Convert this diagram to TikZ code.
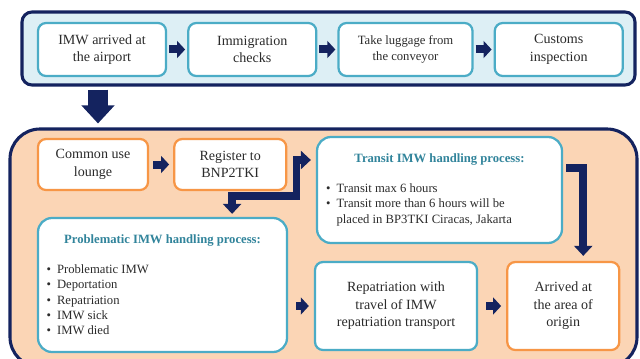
\documentclass[tikz,border=0pt]{standalone}
\usepackage{fontspec}
\setmainfont{Liberation Serif}
\usepackage[dvipsnames]{xcolor}
\usetikzlibrary{arrows.meta,positioning,calc}

\definecolor{navyline}{HTML}{14235F}
\definecolor{topfill}{HTML}{DDEFF5}
\definecolor{tealline}{HTML}{4BACC6}
\definecolor{orangeline}{HTML}{F79646}
\definecolor{peachfill}{HTML}{FBD5B5}
\definecolor{titleteal}{HTML}{31849B}
\definecolor{textgray}{HTML}{2B2B2B}

\newcommand{\imwboxfont}{\fontsize{10}{12.5}\selectfont}
\newcommand{\imwsmallfont}{\fontsize{9}{11}\selectfont}
\newcommand{\imwlistfont}{\fontsize{9}{11}\selectfont}
\newcommand{\bitem}[1]{\par\noindent\hangindent=7.5pt\hangafter=1\makebox[7.5pt][l]{\textbullet}#1}

\begin{document}
\begin{tikzpicture}[
        bluebox/.style = {rectangle, rounded corners=0.2cm, draw=tealline, line width=1.6pt, fill=white, align=center, text=textgray, inner sep=0pt, font=\imwboxfont},
        orangebox/.style = {bluebox, draw=orangeline},
        frame/.style = {rectangle, draw=navyline, line width=2.2pt},
        smallarrow/.style = {navyline, line width=0.2cm, -{Triangle[length=0.2cm, width=0.42cm]}},
        elbow/.style = {navyline, line width=0.19cm, >={Triangle[length=0.25cm, width=0.45cm]}},
        bigarrow/.style = {navyline, line width=0.52cm, -{Triangle[length=0.45cm, width=0.8cm]}}
    ]
        \def\boxh{1.325}

        \useasboundingbox (0,0) rectangle (16,-8.95);

        % airport part
        \node(topframe) [frame, fill=topfill, rounded corners=0.25cm, minimum width=15.325cm, minimum height=1.825cm] at (8.2125,-1.2125) {};

        \node(arrive) [bluebox, minimum width=3.2cm, minimum height=\boxh cm] at (2.55,-1.2375) {IMW arrived at\\the airport};
        \node(immig) [bluebox, minimum width=3.2cm, minimum height=\boxh cm, right=0.5cm of arrive] {Immigration\\checks};
        \node(luggage) [bluebox, minimum width=3.35cm, minimum height=\boxh cm, font=\imwsmallfont, right=0.5cm of immig] {Take luggage from\\the conveyor};
        \node(customs) [bluebox, minimum width=3.2cm, minimum height=\boxh cm, right=0.5cm of luggage] {Customs\\inspection};

        % handling part
        \node(lowframe) [frame, fill=peachfill, rounded corners=0.75cm, minimum width=15.675cm, minimum height=5.95cm] at (8.0875,-6.2) {};

        \node(lounge) [orangebox, minimum width=2.75cm, minimum height=1.275cm] at (2.325,-4.1125) {Common use\\lounge};
        \node(register) [orangebox, minimum width=2.8cm, minimum height=1.275cm, right=0.6cm of lounge] {Register to\\BNP2TKI};

        \node(transit) [bluebox, rounded corners=0.35cm, minimum width=6.125cm, minimum height=2.65cm] at (10.9875,-4.75) {\begin{minipage}{5.675cm}\imwlistfont
            {\centering\bfseries\color{titleteal}Transit IMW handling process:\par}\vspace{10pt}
            \bitem{Transit max 6 hours}
            \bitem{Transit more than 6 hours will be\newline placed in BP3TKI Ciracas, Jakarta}
        \end{minipage}};

        \node(problem) [bluebox, rounded corners=0.35cm, minimum width=6.225cm, minimum height=3.35cm] at (4.0625,-7.125) {\begin{minipage}{5.8cm}\imwlistfont
            {\centering\bfseries\color{titleteal}Problematic IMW handling process:\par}\vspace{10pt}
            \bitem{Problematic IMW}
            \bitem{Deportation}
            \bitem{Repatriation}
            \bitem{IMW sick}
            \bitem{IMW died}
        \end{minipage}};

        \node(repat) [bluebox, minimum width=4.05cm, minimum height=2.2cm] at (9.9,-7.65) {Repatriation with\\travel of IMW\\repatriation transport};
        \node(arrived) [orangebox, minimum width=2.8cm, minimum height=2.2cm, right=0.7cm of repat] {Arrived at\\the area of\\origin};

        \coordinate(split) at ($(register.south east)+(0.225,-0.125)$);

        % arrows
        \draw[smallarrow, shorten <=0.05cm, shorten >=0.05cm] (arrive) -- (immig);
        \draw[smallarrow, shorten <=0.05cm, shorten >=0.05cm] (immig) -- (luggage);
        \draw[smallarrow, shorten <=0.05cm, shorten >=0.05cm] (luggage) -- (customs);
        \draw[bigarrow, shorten <=0.075cm, shorten >=0.1cm] ($(arrive.south |- topframe.south)+(-0.1,0)$) -- ($(arrive.south |- lowframe.north)+(-0.1,0)$);

        \draw[smallarrow, shorten <=0.1cm, shorten >=0.1cm] (lounge) -- (register);
        \draw[elbow, <->, shorten <=0.075cm, shorten >=0.125cm] ([xshift=1.74cm]problem.north) |- (split) |- ([yshift=0.75cm]transit.west);
        \draw[elbow, ->, shorten <=0.075cm, shorten >=0.125cm] ([yshift=0.55cm]transit.east) -| ([xshift=0.5cm]arrived.north);
        \draw[smallarrow, shorten <=0.2cm, shorten >=0.125cm] (problem.east |- repat.west) -- (repat.west);
        \draw[smallarrow, shorten <=0.2cm, shorten >=0.125cm] (repat) -- (arrived);
    \end{tikzpicture}
\end{document}
